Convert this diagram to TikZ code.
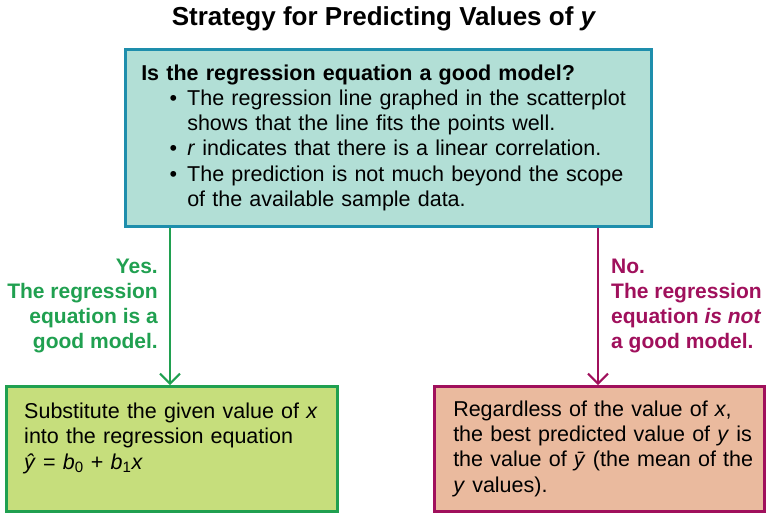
\documentclass[tikz,border=0pt]{standalone}
\usepackage{fontspec}
\setmainfont{Liberation Sans}
\usepackage{xcolor}
\usepackage{tikz}
\usetikzlibrary{positioning,arrows.meta}

\definecolor{qfill}{RGB}{178,223,214}
\definecolor{qline}{RGB}{30,142,172}
\definecolor{yesfill}{RGB}{198,222,124}
\definecolor{yesline}{RGB}{32,160,80}
\definecolor{nofill}{RGB}{234,186,158}
\definecolor{noline}{RGB}{160,16,92}

\newcommand{\qbullet}{\makebox[46pt][r]{\textbullet\hspace{10pt}}}
\newcommand{\qindent}{\hspace*{46pt}}

\begin{document}
\begin{tikzpicture}[x=1pt, y=-1pt,
  flowbox/.style={rectangle, draw, line width=2.5pt, anchor=north west, align=left, inner xsep=6pt, font=\fontsize{21.5}{25.3}\selectfont},
  answer/.style={inner sep=0pt, font=\fontsize{21}{25.3}\selectfont\bfseries},
  arrow/.style={-{Straight Barb[length=10pt,width=20pt]}, line width=2pt}
  ]
  \useasboundingbox (0,0) rectangle (767,515);
  \node[font=\fontsize{26}{30}\selectfont\bfseries] (title) at (384,19) {Strategy for Predicting Values of \textit{y}};
  \node[flowbox, draw=qline, fill=qfill, text width=514pt, minimum height=177pt] (question) at (124,48) {\leftskip=10pt
    \textbf{Is the regression equation a good model?}\\
    \qbullet The regression line graphed in the scatterplot\\
    \qindent shows that the line fits the points well.\\
    \qbullet\textit{r} indicates that there is a linear correlation.\\
    \qbullet The prediction is not much beyond the scope\\
    \qindent of the available sample data.\par};
  \node[flowbox, draw=yesline, fill=yesfill, text width=319pt, minimum height=125pt] (yesbox) at (5,385) {\leftskip=12pt
    Substitute the given value of \textit{x}\\
    into the regression equation\\
    \textit{\^y} = \textit{b}\textsubscript{0} + \textit{b}\textsubscript{1}\textit{x}\\
    \mbox{}\par};
  \node[flowbox, draw=noline, fill=nofill, text width=318pt, minimum height=125pt] (nobox) at (433,385) {\leftskip=13pt
    Regardless of the value of \textit{x},\\
    the best predicted value of \textit{y} is\\
    the value of \textit{\=y} (the mean of the\\
    \textit{y} values).\par};
  \node[answer, text=yesline, align=right, anchor=east] (yeslabel) at (158,306) {Yes.\\The regression\\equation is a\\good model.};
  \node[answer, text=noline, align=left, anchor=west] (nolabel) at (611,306) {No.\\The regression\\equation \textit{is not}\\a good model.};
  \coordinate (yescol) at (170,0);
  \coordinate (nocol) at (598,0);
  \draw[arrow, yesline] (question.south -| yescol) -- (yesbox.north -| yescol);
  \draw[arrow, noline] (question.south -| nocol) -- (nobox.north -| nocol);
\end{tikzpicture}
\end{document}
